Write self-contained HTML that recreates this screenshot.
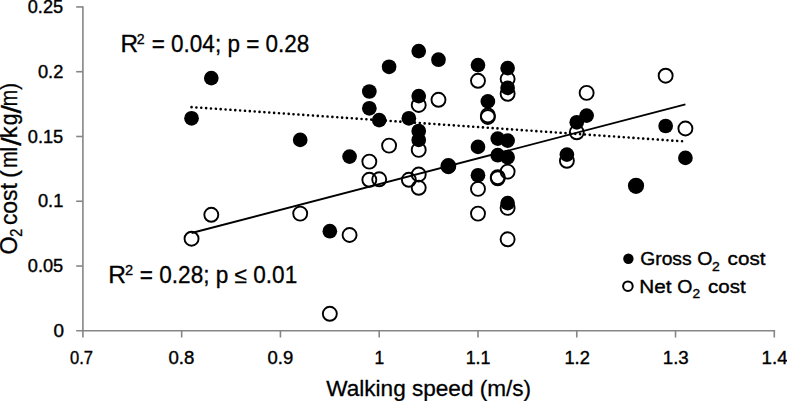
<!DOCTYPE html>
<html lang="en"><head><meta charset="utf-8"><title>O2 cost vs walking speed</title>
<style>
html,body{margin:0;padding:0;background:#fff;}
body{width:787px;height:401px;overflow:hidden;}
svg{display:block;}
text{font-family:"Liberation Sans",sans-serif;fill:#000;stroke:#000;stroke-width:0.3px;stroke-linejoin:round;white-space:pre;}
text.tk{stroke-width:0.4px;}
text.lg{stroke-width:0.4px;}
</style></head><body>
<svg width="787" height="401" viewBox="0 0 787 401">
<rect width="787" height="401" fill="#fff"/>
<g stroke="#858585" stroke-width="1.6" fill="none">
<line x1="82.9" y1="6.15" x2="82.9" y2="337.5"/>
<line x1="76.2" y1="330.8" x2="775.0999999999999" y2="330.8"/>
<line x1="181.67" y1="330.8" x2="181.67" y2="337.5"/>
<line x1="280.44" y1="330.8" x2="280.44" y2="337.5"/>
<line x1="379.21" y1="330.8" x2="379.21" y2="337.5"/>
<line x1="477.99" y1="330.8" x2="477.99" y2="337.5"/>
<line x1="576.76" y1="330.8" x2="576.76" y2="337.5"/>
<line x1="675.53" y1="330.8" x2="675.53" y2="337.5"/>
<line x1="774.30" y1="330.8" x2="774.30" y2="337.5"/>
<line x1="76.2" y1="266.03" x2="82.9" y2="266.03"/>
<line x1="76.2" y1="201.26" x2="82.9" y2="201.26"/>
<line x1="76.2" y1="136.49" x2="82.9" y2="136.49"/>
<line x1="76.2" y1="71.72" x2="82.9" y2="71.72"/>
<line x1="76.2" y1="6.95" x2="82.9" y2="6.95"/>
</g>
<text xml:space="preserve" class="tk"><tspan x="53.54" y="336.90" font-size="18.6" textLength="10.52" lengthAdjust="spacingAndGlyphs">0</tspan></text>
<text xml:space="preserve" class="tk"><tspan x="27.77" y="272.18" font-size="18.6" textLength="35.42" lengthAdjust="spacingAndGlyphs">0.05</tspan></text>
<text xml:space="preserve" class="tk"><tspan x="37.96" y="207.46" font-size="18.6" textLength="25.38" lengthAdjust="spacingAndGlyphs">0.1</tspan></text>
<text xml:space="preserve" class="tk"><tspan x="27.77" y="142.74" font-size="18.6" textLength="35.42" lengthAdjust="spacingAndGlyphs">0.15</tspan></text>
<text xml:space="preserve" class="tk"><tspan x="37.96" y="78.02" font-size="18.6" textLength="25.38" lengthAdjust="spacingAndGlyphs">0.2</tspan></text>
<text xml:space="preserve" class="tk"><tspan x="27.77" y="13.30" font-size="18.6" textLength="35.32" lengthAdjust="spacingAndGlyphs">0.25</tspan></text>
<text xml:space="preserve" class="tk"><tspan x="69.93" y="363.70" font-size="18.6" textLength="23.03" lengthAdjust="spacingAndGlyphs">0.7</tspan></text>
<text xml:space="preserve" class="tk"><tspan x="168.45" y="363.70" font-size="18.6" textLength="25.91" lengthAdjust="spacingAndGlyphs">0.8</tspan></text>
<text xml:space="preserve" class="tk"><tspan x="267.55" y="363.70" font-size="18.6" textLength="25.70" lengthAdjust="spacingAndGlyphs">0.9</tspan></text>
<text xml:space="preserve" class="tk"><tspan x="374.59" y="363.70" font-size="18.6" textLength="9.70" lengthAdjust="spacingAndGlyphs">1</tspan></text>
<text xml:space="preserve" class="tk"><tspan x="465.66" y="363.70" font-size="18.6" textLength="24.87" lengthAdjust="spacingAndGlyphs">1.1</tspan></text>
<text xml:space="preserve" class="tk"><tspan x="564.43" y="363.70" font-size="18.6" textLength="25.42" lengthAdjust="spacingAndGlyphs">1.2</tspan></text>
<text xml:space="preserve" class="tk"><tspan x="662.79" y="363.70" font-size="18.6" textLength="25.97" lengthAdjust="spacingAndGlyphs">1.3</tspan></text>
<text xml:space="preserve" class="tk"><tspan x="761.59" y="363.70" font-size="18.6" textLength="26.02" lengthAdjust="spacingAndGlyphs">1.4</tspan></text>
<line x1="191.55" y1="233.0" x2="685.41" y2="104.4" stroke="#000" stroke-width="1.85"/>
<line x1="191.55" y1="107.1" x2="685.41" y2="141.5" stroke="#000" stroke-width="2.6" stroke-linecap="round" stroke-dasharray="0.01 4.858"/>
<g fill="#000">
<circle cx="191.55" cy="118.3" r="7.35"/>
<circle cx="211.30" cy="78.1" r="7.35"/>
<circle cx="300.20" cy="139.9" r="7.35"/>
<circle cx="329.83" cy="231.2" r="7.35"/>
<circle cx="349.58" cy="156.6" r="7.35"/>
<circle cx="369.34" cy="91.5" r="7.35"/>
<circle cx="369.34" cy="108.3" r="7.35"/>
<circle cx="379.21" cy="120.1" r="7.35"/>
<circle cx="389.09" cy="66.8" r="7.35"/>
<circle cx="408.85" cy="118.3" r="7.35"/>
<circle cx="418.72" cy="51.1" r="7.35"/>
<circle cx="418.72" cy="96.1" r="7.35"/>
<circle cx="418.72" cy="131.0" r="7.35"/>
<circle cx="418.72" cy="139.9" r="7.35"/>
<circle cx="438.48" cy="59.7" r="7.35"/>
<circle cx="448.35" cy="166.9" r="7.35"/>
<circle cx="477.99" cy="65.1" r="7.35"/>
<circle cx="477.99" cy="146.9" r="7.35"/>
<circle cx="477.99" cy="175.3" r="7.35"/>
<circle cx="487.86" cy="101.4" r="7.35"/>
<circle cx="497.74" cy="138.6" r="7.35"/>
<circle cx="497.74" cy="155.2" r="7.35"/>
<circle cx="507.62" cy="68.1" r="7.35"/>
<circle cx="507.62" cy="87.9" r="7.35"/>
<circle cx="507.62" cy="140.6" r="7.35"/>
<circle cx="507.62" cy="157.3" r="7.35"/>
<circle cx="507.62" cy="203.1" r="7.35"/>
<circle cx="566.88" cy="154.6" r="7.35"/>
<circle cx="576.76" cy="122.3" r="7.35"/>
<circle cx="586.63" cy="115.6" r="7.35"/>
<circle cx="665.65" cy="126.0" r="7.35"/>
<circle cx="685.41" cy="157.9" r="7.35"/>
<circle cx="636.02" cy="185.8" r="8.1"/>
</g>
<g fill="none" stroke="#000" stroke-width="1.9">
<circle cx="191.55" cy="238.7" r="7.0"/>
<circle cx="211.30" cy="214.8" r="7.0"/>
<circle cx="300.20" cy="213.6" r="7.0"/>
<circle cx="329.83" cy="313.8" r="7.0"/>
<circle cx="349.58" cy="235.0" r="7.0"/>
<circle cx="369.34" cy="161.6" r="7.0"/>
<circle cx="369.34" cy="179.8" r="7.0"/>
<circle cx="379.21" cy="179.3" r="7.0"/>
<circle cx="389.09" cy="145.6" r="7.0"/>
<circle cx="408.85" cy="179.8" r="7.0"/>
<circle cx="418.72" cy="105.0" r="7.0"/>
<circle cx="418.72" cy="149.9" r="7.0"/>
<circle cx="418.72" cy="174.5" r="7.0"/>
<circle cx="418.72" cy="187.8" r="7.0"/>
<circle cx="438.48" cy="99.8" r="7.0"/>
<circle cx="448.35" cy="166.0" r="7.0"/>
<circle cx="477.99" cy="80.8" r="7.0"/>
<circle cx="477.99" cy="188.9" r="7.0"/>
<circle cx="477.99" cy="213.6" r="7.0"/>
<circle cx="487.86" cy="115.4" r="7.0"/>
<circle cx="487.86" cy="117.0" r="7.0"/>
<circle cx="497.74" cy="177.1" r="7.0"/>
<circle cx="497.74" cy="178.3" r="7.0"/>
<circle cx="507.62" cy="79.0" r="7.0"/>
<circle cx="507.62" cy="93.8" r="7.0"/>
<circle cx="507.62" cy="171.6" r="7.0"/>
<circle cx="507.62" cy="207.9" r="7.0"/>
<circle cx="507.62" cy="239.3" r="7.0"/>
<circle cx="566.88" cy="160.8" r="7.0"/>
<circle cx="576.76" cy="132.3" r="7.0"/>
<circle cx="586.63" cy="92.9" r="7.0"/>
<circle cx="665.65" cy="75.7" r="7.0"/>
<circle cx="685.41" cy="128.5" r="7.0"/>
</g>
<text xml:space="preserve"><tspan x="120.48" y="51.50" font-size="23.0" textLength="17.61" lengthAdjust="spacingAndGlyphs">R</tspan><tspan x="136.86" y="44.10" font-size="14.4" textLength="7.89" lengthAdjust="spacingAndGlyphs">2</tspan><tspan x="145.47" y="51.50" font-size="23.0" textLength="163.84" lengthAdjust="spacingAndGlyphs"> = 0.04; p = 0.28</tspan></text>
<text xml:space="preserve"><tspan x="108.37" y="282.80" font-size="23.0" textLength="17.73" lengthAdjust="spacingAndGlyphs">R</tspan><tspan x="125.14" y="275.40" font-size="14.4" textLength="8.14" lengthAdjust="spacingAndGlyphs">2</tspan><tspan x="133.54" y="282.80" font-size="23.0" textLength="163.66" lengthAdjust="spacingAndGlyphs"> = 0.28; p ≤ 0.01</tspan></text>
<text xml:space="preserve"><tspan x="326.25" y="395.70" font-size="22.9" textLength="204.86" lengthAdjust="spacingAndGlyphs">Walking speed (m/s)</tspan></text>
<text xml:space="preserve" transform="translate(16.8,253.5) rotate(-90)"><tspan x="-0.89" y="0.00" font-size="23.4" textLength="18.09" lengthAdjust="spacingAndGlyphs">O</tspan><tspan x="16.72" y="5.50" font-size="16" textLength="8.11" lengthAdjust="spacingAndGlyphs">2</tspan><tspan x="22.07" y="0.00" font-size="23.4" textLength="48.28" lengthAdjust="spacingAndGlyphs"> cost</tspan><tspan x="68.90" y="0.00" font-size="23.4" textLength="14.30" lengthAdjust="spacingAndGlyphs"> (</tspan><tspan x="85.41" y="0.00" font-size="23.4" textLength="16.78" lengthAdjust="spacingAndGlyphs">m</tspan><tspan x="101.73" y="0.00" font-size="23.4" textLength="5.09" lengthAdjust="spacingAndGlyphs">l</tspan><tspan x="107.70" y="4.00" font-size="27" textLength="8.62" lengthAdjust="spacingAndGlyphs">/</tspan><tspan x="115.39" y="0.00" font-size="23.4" textLength="11.76" lengthAdjust="spacingAndGlyphs">k</tspan><tspan x="128.20" y="0.00" font-size="23.4" textLength="11.65" lengthAdjust="spacingAndGlyphs">g</tspan><tspan x="139.90" y="4.00" font-size="27" textLength="8.62" lengthAdjust="spacingAndGlyphs">/</tspan><tspan x="147.24" y="0.00" font-size="23.4" textLength="16.43" lengthAdjust="spacingAndGlyphs">m</tspan><tspan x="163.78" y="0.00" font-size="23.4" textLength="6.76" lengthAdjust="spacingAndGlyphs">)</tspan></text>
<circle cx="628.4" cy="258.7" r="5.2" fill="#000"/>
<circle cx="627.9" cy="286.2" r="4.8" fill="none" stroke="#000" stroke-width="2"/>
<text xml:space="preserve" class="lg"><tspan x="640.19" y="265.20" font-size="19.2" textLength="51.50" lengthAdjust="spacingAndGlyphs">Gross</tspan><tspan x="691.75" y="265.20" font-size="19.2" textLength="20.58" lengthAdjust="spacingAndGlyphs"> O</tspan><tspan x="712.13" y="270.80" font-size="13.6" textLength="7.74" lengthAdjust="spacingAndGlyphs">2</tspan><tspan x="721.88" y="265.20" font-size="19.2" textLength="43.55" lengthAdjust="spacingAndGlyphs"> cost</tspan></text>
<text xml:space="preserve" class="lg"><tspan x="639.28" y="292.60" font-size="19.2" textLength="32.24" lengthAdjust="spacingAndGlyphs">Net</tspan><tspan x="671.95" y="292.60" font-size="19.2" textLength="20.58" lengthAdjust="spacingAndGlyphs"> O</tspan><tspan x="692.44" y="298.30" font-size="13.6" textLength="7.62" lengthAdjust="spacingAndGlyphs">2</tspan><tspan x="702.42" y="292.60" font-size="19.2" textLength="43.31" lengthAdjust="spacingAndGlyphs"> cost</tspan></text>
</svg>
</body></html>
